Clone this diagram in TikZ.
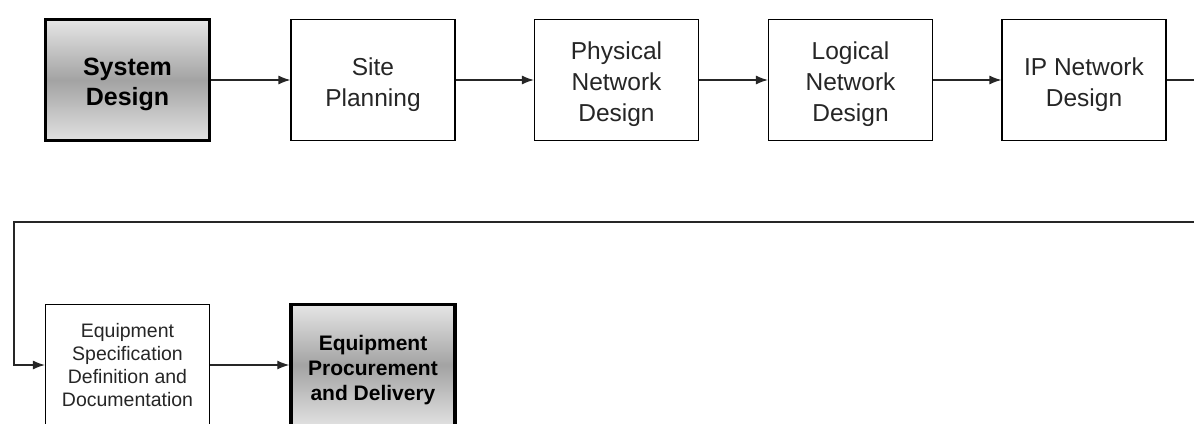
\documentclass[tikz,border=0pt]{standalone}
\usepackage{fontspec}
\setmainfont{Liberation Sans}
\usetikzlibrary{arrows.meta}

% invisible strut that makes the first line taller, lowering the text block
\newcommand\firstline[1]{\rule{0pt}{#1}}

\tikzset{
  stepbox/.style={draw=black, line width=1.2pt, fill=white,
    minimum width=164pt, minimum height=121pt, inner sep=0pt,
    align=center, text=black!85,
    font=\fontsize{24.5pt}{31pt}\selectfont},
  smallbox/.style={stepbox, font=\fontsize{19.5pt}{23pt}\selectfont},
  keybox/.style={stepbox, line width=3.5pt, text=black,
    top color=black!10, bottom color=black!12, middle color=black!36},
  link/.style={line width=1.2pt, draw=black!85,
    -{Latex[length=12pt,width=9pt]}},
}

\begin{document}
\begin{tikzpicture}[x=1pt, y=-1pt]
  \useasboundingbox (0,0) rectangle (1194,423);

  % first row of the design flow
  \node[keybox, font=\bfseries\fontsize{25pt}{30pt}\selectfont] (sys) at (127.5,80) {\firstline{27pt}System\\Design};
  \node[stepbox] (site) at (373,80) {\firstline{27pt}Site\\Planning};
  \node[stepbox] (phys) at (616.5,80) {\firstline{27pt}Physical\\Network\\Design};
  \node[stepbox] (logi) at (850.5,80) {\firstline{27pt}Logical\\Network\\Design};
  \node[stepbox] (ipnet) at (1084,80) {\firstline{27pt}IP Network\\Design};

  % second row
  \node[smallbox] (spec) at (127.5,365) {Equipment\\Specification\\Definition and\\Documentation};
  \node[keybox, font=\bfseries\fontsize{21pt}{25pt}\selectfont] (proc) at (373,365) {\firstline{25pt}Equipment\\Procurement\\and Delivery};

  % turning points of the return line
  \coordinate (turnR) at (1198,222);
  \coordinate (turnL) at (14,222);

  % connectors
  \draw[link] (sys) -- (site);
  \draw[link] (site) -- (phys);
  \draw[link] (phys) -- (logi);
  \draw[link] (logi) -- (ipnet);
  \draw[link] (ipnet.east) -| (turnR) -- (turnL) |- (spec.west);
  \draw[link] (spec) -- (proc);
\end{tikzpicture}
\end{document}
